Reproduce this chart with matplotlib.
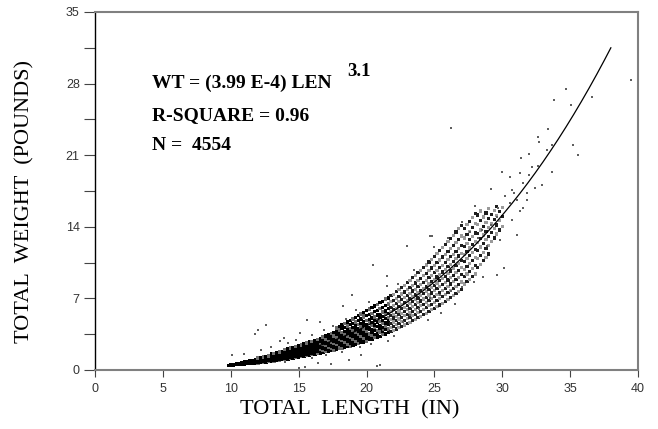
#!/usr/bin/env python3

import numpy as np
import matplotlib.pyplot as plt
from matplotlib.ticker import MultipleLocator

# fitted curve printed on the chart: WT = (3.99 E-4) LEN^3.1
fit_a = 3.99e-4
fit_b = 3.1
fit_len = [9.8, 38.0]

x_ticks = [0, 5, 10, 15, 20, 25, 30, 35, 40]
y_ticks = [0, 7, 14, 21, 28, 35]

# main cloud, read column by column (length, weights seen in that column)
band_len = [9.8, 10.0, 10.2, 10.4, 10.6, 10.8, 11.0, 11.2, 11.4, 11.6, 11.8,
            12.0, 12.2, 12.4, 12.6, 12.8, 13.0, 13.2, 13.4, 13.6, 13.8,
            14.0, 14.2, 14.4, 14.6, 14.8, 15.0, 15.2, 15.4, 15.6, 15.8,
            16.0, 16.2, 16.4, 16.6, 16.8, 17.0, 17.2, 17.4, 17.6, 17.8,
            18.0, 18.2, 18.4, 18.6, 18.8, 19.0, 19.2, 19.4, 19.6, 19.8,
            20.0, 20.2, 20.4, 20.6, 20.8, 21.0, 21.2, 21.4, 21.6, 21.8,
            22.0, 22.2, 22.4, 22.6, 22.8, 23.0, 23.2, 23.4, 23.6, 23.8,
            24.0, 24.2, 24.4, 24.6, 24.8, 25.0, 25.2, 25.4, 25.6, 25.8,
            26.0, 26.2, 26.4, 26.6, 26.8, 27.0, 27.2, 27.4, 27.6, 27.8,
            28.0, 28.2, 28.4, 28.6, 28.8, 29.0, 29.2, 29.4, 29.6, 29.8, 30.0]
band_wt = [
    [0.40, 0.47], [0.44, 0.50, 0.56], [0.45, 0.53, 0.57], [0.48, 0.55, 0.62],
    [0.50, 0.56, 0.61, 0.69], [0.53, 0.60, 0.67, 0.74],
    [0.56, 0.62, 0.69, 0.76, 0.84], [0.58, 0.66, 0.71, 0.80, 0.88],
    [0.61, 0.69, 0.77, 0.83, 0.93], [0.64, 0.72, 0.79, 0.88, 0.97],
    [0.66, 0.75, 0.83, 0.91, 1.02],
    [0.69, 0.77, 0.86, 0.94, 1.05, 1.16], [0.72, 0.81, 0.89, 0.98, 1.08, 1.21],
    [0.76, 0.84, 0.93, 1.03, 1.13, 1.27], [0.79, 0.89, 0.97, 1.07, 1.18, 1.33],
    [0.82, 0.92, 1.01, 1.12, 1.23, 1.39],
    [0.86, 0.95, 1.05, 1.16, 1.27, 1.42, 1.58], [0.89, 0.99, 1.09, 1.20, 1.32, 1.45, 1.63],
    [0.93, 1.03, 1.14, 1.25, 1.37, 1.51, 1.68], [0.97, 1.08, 1.19, 1.30, 1.42, 1.56, 1.74],
    [1.01, 1.12, 1.23, 1.35, 1.48, 1.62, 1.80],
    [1.05, 1.16, 1.28, 1.40, 1.53, 1.67, 1.84, 2.02], [1.09, 1.21, 1.33, 1.45, 1.58, 1.72, 1.90, 2.08],
    [1.13, 1.26, 1.38, 1.51, 1.64, 1.78, 1.96, 2.15], [1.18, 1.30, 1.43, 1.56, 1.70, 1.85, 2.02, 2.22],
    [1.22, 1.35, 1.48, 1.62, 1.76, 1.91, 2.09, 2.30],
    [1.27, 1.40, 1.54, 1.68, 1.82, 1.98, 2.16, 2.38], [1.31, 1.45, 1.59, 1.74, 1.89, 2.05, 2.23, 2.45],
    [1.36, 1.51, 1.65, 1.80, 1.95, 2.12, 2.31, 2.54], [1.41, 1.56, 1.71, 1.87, 2.02, 2.19, 2.39, 2.63],
    [1.46, 1.62, 1.77, 1.93, 2.09, 2.27, 2.47, 2.72],
    [1.51, 1.67, 1.84, 2.00, 2.17, 2.35, 2.56, 2.81], [1.56, 1.73, 1.90, 2.07, 2.24, 2.43, 2.64, 2.90],
    [1.62, 1.79, 1.97, 2.14, 2.32, 2.51, 2.73, 3.00], [1.67, 1.85, 2.03, 2.21, 2.40, 2.60, 2.83, 3.10],
    [1.73, 1.92, 2.10, 2.29, 2.48, 2.69, 2.92, 3.21],
    [1.78, 1.98, 2.17, 2.37, 2.57, 2.78, 3.02, 3.32], [1.84, 2.05, 2.24, 2.45, 2.65, 2.87, 3.12, 3.44],
    [1.90, 2.11, 2.32, 2.53, 2.74, 2.97, 3.22, 3.55], [1.96, 2.18, 2.40, 2.61, 2.83, 3.07, 3.33, 3.67],
    [2.02, 2.25, 2.47, 2.70, 2.93, 3.17, 3.44, 3.79, 4.10],
    [2.09, 2.32, 2.55, 2.79, 3.02, 3.27, 3.55, 3.91, 4.25], [2.15, 2.40, 2.64, 2.88, 3.12, 3.38, 3.67, 4.03, 4.40],
    [2.22, 2.47, 2.72, 2.97, 3.22, 3.49, 3.79, 4.16, 4.55], [2.29, 2.55, 2.81, 3.06, 3.32, 3.60, 3.91, 4.29, 4.70],
    [2.36, 2.63, 2.89, 3.16, 3.43, 3.71, 4.03, 4.42, 4.85],
    [2.43, 2.71, 2.98, 3.26, 3.54, 3.83, 4.16, 4.56, 5.00], [2.50, 2.79, 3.07, 3.36, 3.65, 3.95, 4.29, 4.70, 5.15],
    [2.58, 2.88, 3.17, 3.46, 3.76, 4.07, 4.42, 4.85, 5.30], [2.66, 2.96, 3.26, 3.57, 3.87, 4.20, 4.56, 5.00, 5.46],
    [2.74, 3.05, 3.36, 3.67, 3.99, 4.32, 4.70, 5.15, 5.62],
    [2.82, 3.14, 3.46, 3.78, 4.11, 4.45, 4.84, 5.30, 5.80], [2.95, 3.30, 3.52, 3.95, 4.18, 4.60, 4.91, 5.44, 5.95],
    [3.02, 3.41, 3.70, 3.98, 4.35, 4.66, 5.10, 5.52, 6.12], [3.15, 3.47, 3.83, 4.15, 4.40, 4.85, 5.18, 5.71, 6.26],
    [3.22, 3.60, 3.89, 4.28, 4.62, 4.93, 5.37, 5.82, 6.40],
    [3.30, 3.72, 4.05, 4.33, 4.74, 5.12, 5.45, 6.00, 6.58], [3.45, 3.80, 4.14, 4.52, 4.86, 5.20, 5.66, 6.13, 6.72],
    [3.52, 3.95, 4.30, 4.61, 5.02, 5.41, 5.77, 6.31, 6.93], [3.66, 4.02, 4.42, 4.80, 5.12, 5.53, 5.98, 6.45, 7.05],
    [3.75, 4.18, 4.53, 4.91, 5.33, 5.70, 6.10, 6.66, 7.28],
    [3.90, 4.27, 4.70, 5.08, 5.45, 5.88, 6.32, 6.80, 7.42], [4.01, 4.44, 4.82, 5.23, 5.64, 6.02, 6.51, 7.02, 7.66],
    [4.15, 4.55, 4.98, 5.40, 5.77, 6.24, 6.68, 7.20, 7.85], [4.26, 4.72, 5.12, 5.52, 5.98, 6.40, 6.90, 7.43, 8.10],
    [4.40, 4.84, 5.30, 5.71, 6.12, 6.61, 7.08, 7.62, 8.30],
    [4.55, 5.00, 5.42, 5.88, 6.33, 6.77, 7.30, 7.86, 8.55], [4.66, 5.14, 5.60, 6.03, 6.50, 6.98, 7.48, 8.05, 8.76],
    [4.82, 5.30, 5.74, 6.24, 6.68, 7.15, 7.72, 8.30, 9.02], [4.95, 5.43, 5.93, 6.38, 6.88, 7.37, 7.90, 8.51, 9.25],
    [5.10, 5.62, 6.08, 6.59, 7.04, 7.56, 8.14, 8.77, 9.50],
    [5.24, 5.75, 6.27, 6.74, 7.26, 7.78, 8.33, 8.98, 9.76], [5.40, 5.93, 6.42, 6.95, 7.44, 7.97, 8.58, 9.23, 10.02],
    [5.55, 6.08, 6.62, 7.12, 7.66, 8.20, 8.78, 9.46, 10.27], [5.70, 6.27, 6.80, 7.33, 7.85, 8.41, 9.03, 9.72, 10.55],
    [5.88, 6.42, 6.99, 7.52, 8.07, 8.64, 9.25, 9.97, 10.82],
    [6.02, 6.61, 7.17, 7.74, 8.27, 8.86, 9.50, 10.22, 11.10], [6.20, 6.78, 7.38, 7.93, 8.50, 9.10, 9.74, 10.50, 11.38],
    [6.36, 6.98, 7.56, 8.15, 8.72, 9.32, 10.00, 10.76, 11.66], [6.54, 7.15, 7.78, 8.36, 8.96, 9.58, 10.25, 11.04, 11.95],
    [6.71, 7.36, 7.97, 8.59, 9.18, 9.82, 10.52, 11.31, 12.25],
    [6.90, 7.54, 8.19, 8.80, 9.43, 10.08, 10.78, 11.60, 12.55], [7.08, 7.76, 8.40, 9.04, 9.67, 10.33, 11.06, 11.88, 12.86],
    [7.28, 7.95, 8.63, 9.27, 9.92, 10.60, 11.33, 12.18, 13.17], [7.47, 8.17, 8.85, 9.51, 10.18, 10.87, 11.62, 12.48, 13.49],
    [7.68, 8.38, 9.08, 9.76, 10.44, 11.14, 11.91, 12.79, 13.82],
    [7.88, 8.61, 9.32, 10.00, 10.70, 11.42, 12.20, 13.10, 14.15], [8.40, 9.15, 9.86, 10.60, 11.30, 12.05, 12.90, 13.85],
    [8.65, 9.38, 10.15, 10.88, 11.62, 12.38, 13.22, 14.20], [8.88, 9.66, 10.42, 11.18, 11.92, 12.72, 13.57, 14.55],
    [9.12, 9.92, 10.72, 11.48, 12.25, 13.05, 13.92, 14.92],
    [9.38, 10.20, 11.00, 11.80, 12.58, 13.40, 14.30, 15.30], [10.05, 10.88, 11.70, 12.50, 13.32, 14.20, 15.15],
    [10.35, 11.20, 12.02, 12.85, 13.68, 14.58, 15.55], [10.70, 11.52, 12.36, 13.20, 14.05, 14.95],
    [11.02, 11.86, 12.72, 13.56, 14.42, 15.35],
    [11.35, 12.20, 13.08, 13.94, 14.82, 15.75], [12.55, 13.42, 14.30, 15.22],
    [12.90, 13.80, 14.70, 15.62], [13.30, 14.18, 15.10, 16.02], [13.68, 14.60, 15.50], [14.05, 15.00, 15.90],
]

# scattered points away from the main cloud
out_len = [11.8, 12.0, 12.6, 15.6, 16.6, 15.1, 13.6, 13.9, 11.0, 10.1, 12.2, 15.5, 16.4, 15.0,
           17.4, 20.8, 18.3, 19.8, 18.9, 20.5, 21.5, 21.5, 23.0, 24.7, 26.2, 21.0, 19.6, 18.7,
           18.0, 21.6, 21.2, 22.7, 23.2, 23.9, 24.7, 25.4, 26.2, 27.0, 27.9, 28.6, 29.6, 30.1,
           31.1, 29.8, 29.2, 29.6, 30.7, 31.3, 29.7, 31.5, 31.8, 31.1, 30.6, 30.2, 29.2, 30.7,
           30.9, 31.5, 31.8, 32.4, 32.9, 30.0, 30.6, 31.3, 32.0, 32.6, 32.2, 33.7, 31.4, 32.0,
           33.3, 35.6, 32.6, 32.7, 33.7, 35.2, 33.4, 35.1, 33.8, 36.6, 34.7, 39.5, 28.5, 27.6,
           28.2, 28.9, 24.8, 13.0, 14.2, 14.8, 16.0, 16.9, 17.5, 18.5, 19.2, 20.2, 17.0, 18.2,
           19.5, 20.3, 14.0, 16.0, 22.3, 23.5, 22.0, 24.5, 25.5, 26.5, 25.0, 26.0, 27.0, 28.0]
out_wt = [3.5, 3.9, 4.4, 4.9, 4.7, 3.6, 2.8, 3.1, 1.6, 1.5, 2.0, 0.3, 0.65, 0.2,
          0.6, 0.4, 6.3, 5.4, 7.3, 10.3, 9.2, 8.2, 12.1, 13.1, 23.7, 0.5, 1.5, 1.0,
          2.1, 2.8, 3.9, 4.7, 5.4, 6.0, 7.0, 7.3, 7.7, 8.1, 8.6, 9.1, 9.3, 10.0,
          13.2, 12.7, 14.2, 15.0, 14.7, 15.5, 15.8, 15.8, 16.6, 16.6, 16.3, 17.0, 17.7, 17.6,
          17.3, 18.3, 17.3, 17.8, 18.1, 19.4, 18.9, 19.3, 19.1, 19.9, 19.8, 19.4, 20.7, 21.1,
          21.5, 21.0, 22.8, 22.3, 22.0, 22.0, 23.6, 25.9, 26.4, 26.7, 27.5, 28.4, 13.7, 13.5,
          12.9, 12.1, 13.1, 2.2, 2.6, 2.9, 3.4, 3.9, 4.3, 5.0, 5.9, 6.6, 1.5, 1.8,
          2.2, 2.5, 0.8, 1.2, 8.4, 9.8, 3.3, 4.9, 5.6, 6.5, 12.0, 12.9, 14.5, 16.0]

fig = plt.figure(figsize=(6.58, 4.29), dpi=100)
ax = fig.add_axes([95/658, 59/429, 543/658, 358/429])

# flatten the columns; the cloud is solid black where it is densest and
# thins out into a speckle of dark and pale dots further up
bx, by, bc, bs = [], [], [], []
for j, (l, ws) in enumerate(zip(band_len, band_wt)):
    for k, w in enumerate(ws):
        bx.append(l)
        by.append(w)
        edge = k == 0 or k == len(ws) - 1
        if l < 12:
            bc.append('#000000'); bs.append(2.0**2)
        elif l <= 16.4:
            bc.append('#707070' if edge and (j % 2) else '#000000'); bs.append(2.5**2)
        elif l <= 21.6:
            bc.append('#000000' if (k + j) % 3 else '#6a6a6a'); bs.append(2.4**2)
        else:
            bc.append('#1e1e1e' if (k + j) % 2 == 0 else '#9a9a9a'); bs.append(2.3**2)
ax.scatter(bx, by, s=bs, c=bc, marker='s', linewidths=0)
ax.scatter(out_len, out_wt, s=1.3**2, c='#5e5e5e', marker='s', linewidths=0)

cl = np.linspace(fit_len[0], fit_len[1], 300)
ax.plot(cl, fit_a*cl**fit_b, color='black', lw=0.9)

ax.set_xlim(0, 40)
ax.set_ylim(0, 35)
ax.set_xticks(x_ticks)
ax.set_yticks(y_ticks)
ax.yaxis.set_minor_locator(MultipleLocator(3.5))
ax.tick_params(axis='y', which='both', direction='out', length=8, width=0.8,
               color='#444444', pad=3, labelsize=9, labelcolor='#333333')
ax.tick_params(axis='x', direction='out', length=5, width=0.8,
               color='#444444', pad=4, labelsize=9, labelcolor='#333333')
for lab in ax.get_xticklabels() + ax.get_yticklabels():
    lab.set_family('Liberation Sans')

ax.spines['left'].set_color('black')
ax.spines['left'].set_linewidth(1.0)
for s in ['top', 'right', 'bottom']:
    ax.spines[s].set_color('#808080')
    ax.spines[s].set_linewidth(1.5)

serif = 'Liberation Serif'
ax.text(4.18, 27.6, 'WT = (3.99 E-4) LEN', family=serif, weight='bold', fontsize=14)
ax.text(18.6, 28.7, '3.1', family=serif, weight='bold', fontsize=13.5)
ax.text(4.18, 24.4, 'R-SQUARE = 0.96', family=serif, weight='bold', fontsize=14)
ax.text(4.18, 21.5, 'N =  4554', family=serif, weight='bold', fontsize=14)

fig.text(0.038, 0.531, 'TOTAL  WEIGHT  (POUNDS)', rotation=90, family=serif,
         fontsize=16, ha='center', va='center')
fig.text(0.532, 0.044, 'TOTAL  LENGTH  (IN)', family=serif,
         fontsize=16, ha='center', va='center')

plt.savefig('out.png', dpi=100)
